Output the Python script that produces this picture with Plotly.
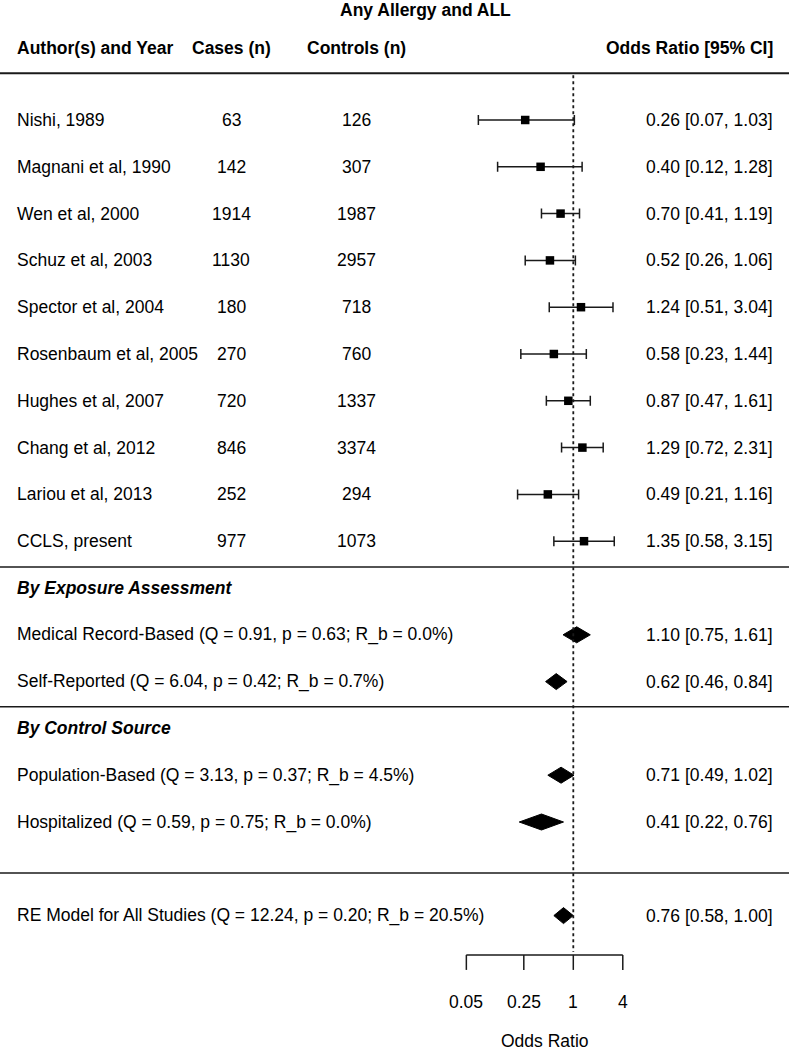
import math
import plotly.graph_objects as go

# ---------------- data ----------------
title = "Any Allergy and ALL"
header_labels = ["Author(s) and Year", "Cases (n)", "Controls (n)", "Odds Ratio [95% CI]"]

study_names = ["Nishi, 1989", "Magnani et al, 1990", "Wen et al, 2000", "Schuz et al, 2003",
               "Spector et al, 2004", "Rosenbaum et al, 2005", "Hughes et al, 2007",
               "Chang et al, 2012", "Lariou et al, 2013", "CCLS, present"]
cases = [63, 142, 1914, 1130, 180, 270, 720, 846, 252, 977]
controls = [126, 307, 1987, 2957, 718, 760, 1337, 3374, 294, 1073]
study_or = [0.26, 0.40, 0.70, 0.52, 1.24, 0.58, 0.87, 1.29, 0.49, 1.35]
study_lo = [0.07, 0.12, 0.41, 0.26, 0.51, 0.23, 0.47, 0.72, 0.21, 0.58]
study_hi = [1.03, 1.28, 1.19, 1.06, 3.04, 1.44, 1.61, 2.31, 1.16, 3.15]

section_titles = ["By Exposure Assessment", "By Control Source"]
subgroup_labels = ["Medical Record-Based (Q = 0.91, p = 0.63; R_b = 0.0%)",
                   "Self-Reported (Q = 6.04, p = 0.42; R_b = 0.7%)",
                   "Population-Based (Q = 3.13, p = 0.37; R_b = 4.5%)",
                   "Hospitalized (Q = 0.59, p = 0.75; R_b = 0.0%)"]
sub_or = [1.10, 0.62, 0.71, 0.41]
sub_lo = [0.75, 0.46, 0.49, 0.22]
sub_hi = [1.61, 0.84, 1.02, 0.76]

overall_label = "RE Model for All Studies (Q = 12.24, p = 0.20; R_b = 20.5%)"
overall_or = 0.76
overall_lo = 0.58
overall_hi = 1.00

tick_vals = [0.05, 0.25, 1, 4]
tick_text = ["0.05", "0.25", "1", "4"]
axis_title = "Odds Ratio"

# ---------------- layout constants ----------------
W, H = 789, 1050
PX_PER_LN = 35.7
X_ONE = 573.3
ROW0, ROW_H = 120.0, 46.8
FONT = "Liberation Sans, Arial, Helvetica, sans-serif"
FS = 17.5
LN10 = math.log(10)
INK = "#1a1a1a"

def ypx(r):
    return ROW0 + r * ROW_H

study_rows = list(range(10))
section_rows = [10, 13]
sub_rows = [11, 12, 14, 15]
overall_row = 17
hline_rows = [9.55, 12.54, 16.09]
top_line_row = -1.0
header_row = -1.54
axis_row = 17.84
TICK_LEN = 15
TICKLABEL_Y = 1002
AXIS_TITLE_Y = 1041

COL_NAME = 15
COL_CASES = 231
COL_CTRL = 356
COL_OR = 775

fig = go.Figure()

# study estimates with CIs
fig.add_trace(go.Scatter(
    x=study_or, y=[ypx(r) for r in study_rows], mode="markers",
    marker=dict(symbol="square", size=8.5, color="black"),
    error_x=dict(type="data", symmetric=False,
                 array=[h - o for h, o in zip(study_hi, study_or)],
                 arrayminus=[o - l for o, l in zip(study_or, study_lo)],
                 color=INK, thickness=1.5, width=5),
    showlegend=False, hoverinfo="skip"))

# summary diamonds
diamonds = list(zip(sub_rows, sub_or, sub_lo, sub_hi)) + [(overall_row, overall_or, overall_lo, overall_hi)]
HALF = 8
for r, o, lo, hi in diamonds:
    yc = ypx(r)
    fig.add_trace(go.Scatter(
        x=[lo, o, hi, o, lo], y=[yc, yc - HALF, yc, yc + HALF, yc],
        mode="lines", fill="toself", fillcolor="black",
        line=dict(color="black", width=1), showlegend=False, hoverinfo="skip"))

shapes = []
# reference line at OR = 1
shapes.append(dict(type="line", xref="x", yref="y", x0=1, x1=1,
                   y0=ypx(top_line_row) + 2, y1=ypx(axis_row) - 3,
                   line=dict(color=INK, width=1.8, dash="dot")))
shapes.append(dict(type="line", xref="paper", yref="y", x0=0, x1=1,
                   y0=ypx(top_line_row), y1=ypx(top_line_row),
                   line=dict(color=INK, width=2)))
for r in hline_rows:
    shapes.append(dict(type="line", xref="paper", yref="y", x0=0, x1=1,
                       y0=ypx(r), y1=ypx(r), line=dict(color=INK, width=1.5)))

# bottom axis drawn on the log x scale
ay = ypx(axis_row)
shapes.append(dict(type="line", xref="x", yref="y", x0=tick_vals[0], x1=tick_vals[-1],
                   y0=ay, y1=ay, line=dict(color=INK, width=1.5)))
for tv in tick_vals:
    shapes.append(dict(type="line", xref="x", yref="y", x0=tv, x1=tv,
                       y0=ay, y1=ay + TICK_LEN, line=dict(color=INK, width=1.5)))

ann = []
def txt(x, y, s, anchor="left", bold=False, italic=False, xref="paper"):
    if italic:
        s = "<i>" + s + "</i>"
    if bold:
        s = "<b>" + s + "</b>"
    # annotations on a log axis take log10 positions
    xv = x / W if xref == "paper" else math.log10(x)
    ann.append(dict(x=xv, y=y, xref=xref, yref="y", text=s,
                    showarrow=False, xanchor=anchor, yanchor="middle",
                    font=dict(family=FONT, size=FS, color="black")))

txt(426, 10, title, anchor="center", bold=True)
hy = ypx(header_row)
txt(COL_NAME, hy, header_labels[0], bold=True)
txt(COL_CASES, hy, header_labels[1], anchor="center", bold=True)
txt(COL_CTRL, hy, header_labels[2], anchor="center", bold=True)
txt(COL_OR, hy, header_labels[3], anchor="right", bold=True)

def ci_text(o, l, h):
    return f"{o:.2f} [{l:.2f}, {h:.2f}]"

for r, n, c, k, o, l, h in zip(study_rows, study_names, cases, controls, study_or, study_lo, study_hi):
    y = ypx(r)
    txt(COL_NAME, y, n)
    txt(COL_CASES, y, str(c), anchor="center")
    txt(COL_CTRL, y, str(k), anchor="center")
    txt(COL_OR, y, ci_text(o, l, h), anchor="right")

for r, s in zip(section_rows, section_titles):
    txt(COL_NAME, ypx(r), s, bold=True, italic=True)

for r, s, o, l, h in zip(sub_rows, subgroup_labels, sub_or, sub_lo, sub_hi):
    txt(COL_NAME, ypx(r), s)
    txt(COL_OR, ypx(r), ci_text(o, l, h), anchor="right")

txt(COL_NAME, ypx(overall_row), overall_label)
txt(COL_OR, ypx(overall_row), ci_text(overall_or, overall_lo, overall_hi), anchor="right")

for tv, tt in zip(tick_vals, tick_text):
    txt(tv, TICKLABEL_Y, tt, anchor="center", xref="x")
# axis title centred under the axis (geometric mean of the end ticks on a log scale)
txt(math.sqrt(tick_vals[0] * tick_vals[-1]), AXIS_TITLE_Y, axis_title, anchor="center", xref="x")

fig.update_layout(
    width=W, height=H, margin=dict(l=0, r=0, t=0, b=0, pad=0, autoexpand=False),
    paper_bgcolor="white", plot_bgcolor="white",
    xaxis=dict(type="log", range=[(0 - X_ONE) / PX_PER_LN / LN10, (W - X_ONE) / PX_PER_LN / LN10],
               visible=False, fixedrange=True, domain=[0, 1], automargin=False),
    yaxis=dict(range=[H, 0], visible=False, fixedrange=True, domain=[0, 1], automargin=False),
    shapes=shapes, annotations=ann, showlegend=False,
)

fig.write_html("out.html", config={"displayModeBar": False},
               post_script="document.body.style.margin='0px';document.body.style.overflow='hidden';")
